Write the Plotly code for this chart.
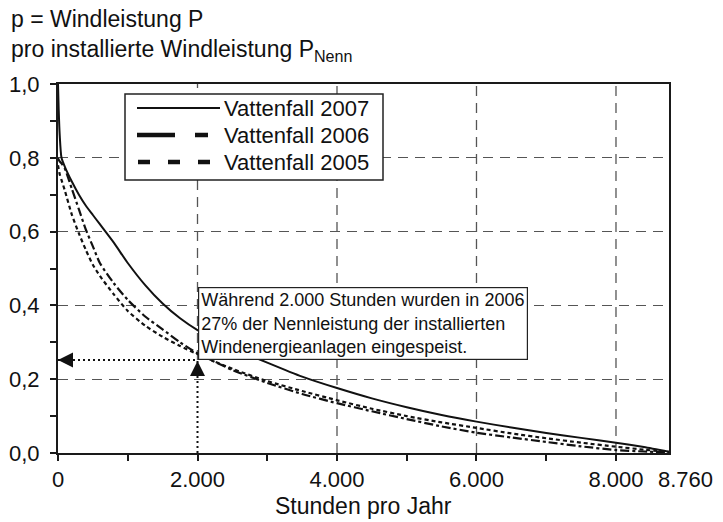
"""Jahresdauerlinie der Windleistung (Vattenfall 2005-2007) als Plotly-Figur."""

import plotly.graph_objects as go

# Stunden pro Jahr und p = P / P_Nenn
HOURS = [0, 10, 25, 50, 100, 200, 300, 400, 500, 600, 800, 1000, 1250, 1500,
         1750, 2000, 2500, 3000, 3500, 4000, 4500, 5000, 5500, 6000, 6500,
         7000, 7500, 8000, 8400, 8760]
P_2007 = [1.0, 0.93, 0.86, 0.80, 0.775, 0.735, 0.70, 0.67, 0.645, 0.62, 0.57,
          0.515, 0.455, 0.405, 0.365, 0.333, 0.285, 0.245, 0.207, 0.176, 0.148,
          0.124, 0.103, 0.085, 0.069, 0.054, 0.041, 0.028, 0.016, 0.003]
P_2006 = [0.80, 0.795, 0.79, 0.785, 0.77, 0.715, 0.66, 0.605, 0.56, 0.515,
          0.46, 0.415, 0.37, 0.335, 0.30, 0.27, 0.225, 0.19, 0.16, 0.135,
          0.113, 0.092, 0.072, 0.055, 0.042, 0.03, 0.018, 0.008, 0.004, 0.002]
P_2005 = [0.78, 0.77, 0.755, 0.74, 0.71, 0.645, 0.595, 0.55, 0.51, 0.48, 0.43,
          0.385, 0.345, 0.315, 0.29, 0.268, 0.228, 0.195, 0.168, 0.143, 0.12,
          0.10, 0.083, 0.068, 0.053, 0.04, 0.028, 0.017, 0.009, 0.003]

SERIES_NAMES = ["Vattenfall 2007", "Vattenfall 2006", "Vattenfall 2005"]

X_TICKS = [0, 2000, 4000, 6000, 8000]
X_TICK_TEXT = ["0", "2.000", "4.000", "6.000", "8.000"]
X_END = 8760
X_END_TEXT = "8.760"
X_GRID = [2000, 4000, 6000, 8000]
Y_TICKS = [0, 0.2, 0.4, 0.6, 0.8, 1.0]
Y_TICK_TEXT = ["0,0", "0,2", "0,4", "0,6", "0,8", "1,0"]

# Markierter Punkt: 2.000 h bei ca. 27 % (Pfeile liegen knapp darunter)
ANNOT_HOURS = 2000
ANNOT_P = 0.252
ANNOT_TEXT = ("Während 2.000 Stunden wurden in 2006<br>"
              "27% der Nennleistung der installierten<br>"
              "Windenergieanlagen eingespeist.")

# Layout in Pixeln
W, H = 723, 522
M_L, M_R, M_T, M_B = 58, 54, 84, 69
PLOT_W = W - M_L - M_R
PLOT_H = H - M_T - M_B

FONT = "Liberation Sans, Arial, Helvetica, sans-serif"
INK = "#111111"
GRID = "#555555"
GRID_DASH = "10px,7px"


def _px(x):
    return (x - M_L) / PLOT_W


def _py(y):
    return (H - M_B - y) / PLOT_H


fig = go.Figure()

styles = [
    {"width": 2.0, "dash": "solid"},
    {"width": 2.2, "dash": "9px,3px,3px,3px"},
    {"width": 2.2, "dash": "4px,3px"},
]
for name, values, st in zip(SERIES_NAMES, [P_2007, P_2006, P_2005], styles):
    fig.add_trace(
        go.Scatter(
            x=HOURS,
            y=values,
            mode="lines",
            name=name,
            line={"color": INK, "shape": "spline", "smoothing": 0.6, **st},
            showlegend=False,
        )
    )

shapes = []
# senkrechte Gitterlinien (bei 2.000 h erst oberhalb des markierten Punkts)
for g in X_GRID:
    shapes.append(dict(
        type="line", xref="x", yref="y", x0=g, x1=g,
        y0=ANNOT_P if g == ANNOT_HOURS else 0, y1=1,
        line={"color": GRID, "width": 1.3, "dash": GRID_DASH}, layer="below",
    ))
# gepunktete Hilfslinien zum Punkt
shapes.append(dict(
    type="line", xref="x", yref="y", x0=0, x1=ANNOT_HOURS,
    y0=ANNOT_P, y1=ANNOT_P,
    line={"color": INK, "width": 2, "dash": "2px,3px"}, layer="above",
))
shapes.append(dict(
    type="line", xref="x", yref="y", x0=ANNOT_HOURS, x1=ANNOT_HOURS,
    y0=0, y1=ANNOT_P,
    line={"color": INK, "width": 2, "dash": "2px,3px"}, layer="above",
))

# eigene Legende (lange Linienmuster wie im Original)
shapes.append(dict(
    type="rect", xref="paper", yref="paper",
    x0=_px(125), x1=_px(383), y0=_py(180), y1=_py(94),
    line={"color": "#222222", "width": 1.5}, fillcolor="white", layer="above",
))
legend_rows = [108, 135, 162]
legend_lines = [
    (137, 220, {"width": 2.0, "dash": "solid"}),
    (137, 208, {"width": 4.5, "dash": "38px,20px,13px"}),
    (138, 212, {"width": 4.5, "dash": "12px,18px"}),
]
annotations = []
for name, row, (x0, x1, st) in zip(SERIES_NAMES, legend_rows, legend_lines):
    shapes.append(dict(
        type="line", xref="paper", yref="paper",
        x0=_px(x0), x1=_px(x1), y0=_py(row), y1=_py(row),
        line={"color": INK, **st}, layer="above",
    ))
    annotations.append(dict(
        xref="paper", yref="paper", x=_px(222), y=_py(row),
        xanchor="left", yanchor="middle", text=name, showarrow=False,
        font={"family": FONT, "size": 22, "color": INK},
    ))

# Titel oben links
annotations.append(dict(
    xref="paper", yref="paper", x=_px(9), y=_py(4),
    xanchor="left", yanchor="top", align="left", showarrow=False,
    text="p = Windleistung P<br>pro installierte Windleistung P<sub>Nenn</sub>",
    font={"family": FONT, "size": 23, "color": INK},
))
# Achsentitel x
annotations.append(dict(
    xref="paper", yref="paper", x=0.5, y=_py(506),
    xanchor="center", yanchor="middle", showarrow=False,
    text="Stunden pro Jahr",
    font={"family": FONT, "size": 23, "color": INK},
))
# letzte Achsenbeschriftung (8.760 h), leicht nach rechts versetzt
annotations.append(dict(
    xref="x", yref="paper", x=X_END, y=_py(479), xshift=-13,
    xanchor="left", yanchor="middle", showarrow=False,
    text=X_END_TEXT,
    font={"family": FONT, "size": 22, "color": INK},
))
# Textkasten
annotations.append(dict(
    xref="x", yref="y", x=2010, y=0.45,
    xanchor="left", yanchor="top", align="left", showarrow=False,
    text=ANNOT_TEXT, bgcolor="white", bordercolor="#222222",
    borderwidth=1.2, borderpad=2,
    font={"family": FONT, "size": 18, "color": INK},
))
# Pfeilspitzen
annotations.append(dict(
    xref="x", yref="y", x=0, y=ANNOT_P, ax=14, ay=0, text="",
    showarrow=True, arrowhead=2, arrowsize=2, arrowwidth=1.5,
    arrowcolor=INK, standoff=0,
))
annotations.append(dict(
    xref="x", yref="y", x=ANNOT_HOURS, y=ANNOT_P, ax=0, ay=14, text="",
    showarrow=True, arrowhead=2, arrowsize=2, arrowwidth=1.5,
    arrowcolor=INK, standoff=1,
))

axis_common = dict(
    showline=True, mirror=True, linecolor="#1a1a1a", linewidth=2,
    zeroline=False, ticks="outside", ticklen=6, tickwidth=1.5,
    tickcolor="#1a1a1a", tickfont={"family": FONT, "size": 22, "color": INK},
)

fig.update_layout(
    width=W,
    height=H,
    margin={"l": M_L, "r": M_R, "t": M_T, "b": M_B, "autoexpand": False},
    paper_bgcolor="white",
    plot_bgcolor="white",
    showlegend=False,
    shapes=shapes,
    annotations=annotations,
    xaxis=dict(
        range=[0, X_END], tickvals=X_TICKS, ticktext=X_TICK_TEXT,
        tickangle=0, showgrid=False, automargin=False,
        minor={"dtick": 1000, "tick0": 0, "ticks": "outside", "ticklen": 6,
               "tickwidth": 1.5, "tickcolor": "#1a1a1a", "showgrid": False},
        **axis_common,
    ),
    yaxis=dict(
        range=[0, 1], tickvals=Y_TICKS, ticktext=Y_TICK_TEXT,
        showgrid=True, gridcolor=GRID, gridwidth=1.3, griddash=GRID_DASH,
        ticklabelstandoff=6, automargin=False,
        minor={"dtick": 0.1, "tick0": 0, "ticks": "outside", "ticklen": 6,
               "tickwidth": 1.5, "tickcolor": "#1a1a1a", "showgrid": False},
        **axis_common,
    ),
)

# Standard-Rand des <body> entfernen, damit die Figur bei (0, 0) beginnt
fig.write_html(
    "out.html",
    config={"displayModeBar": False},
    post_script="document.body.style.margin = '0';",
)
